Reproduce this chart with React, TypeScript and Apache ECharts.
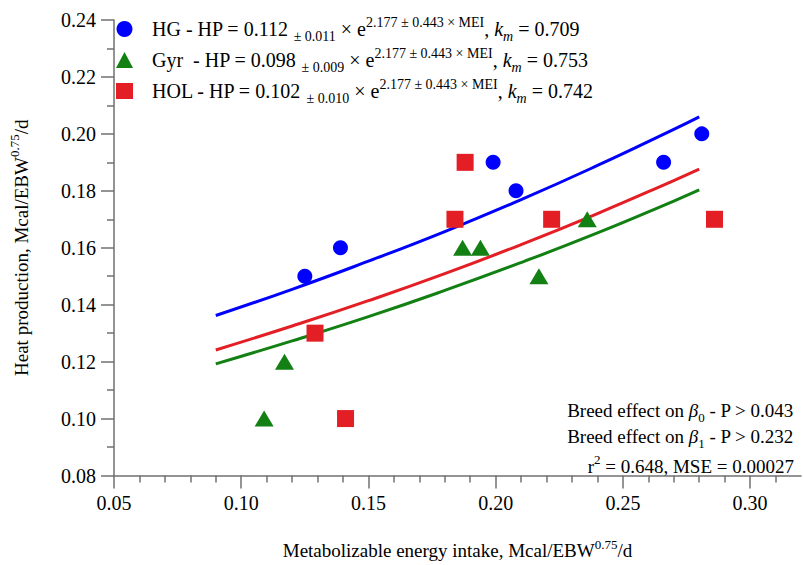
import React, { useEffect, useRef } from "react";
import * as echarts from "echarts";

const hgX = [0.125, 0.139, 0.199, 0.208, 0.266, 0.281];
const hgY = [0.15, 0.16, 0.19, 0.18, 0.19, 0.2];
const gyrX = [0.109, 0.117, 0.187, 0.194, 0.217, 0.236];
const gyrY = [0.1, 0.12, 0.16, 0.16, 0.15, 0.17];
const holX = [0.129, 0.141, 0.184, 0.188, 0.222, 0.286];
const holY = [0.13, 0.1, 0.17, 0.19, 0.17, 0.17];

// Fitted curves
const fitX = [0.09, 0.12, 0.15, 0.18, 0.21, 0.24, 0.27, 0.28];
const hgFit = [0.1362, 0.1454, 0.1553, 0.1657, 0.1769, 0.1889, 0.2016, 0.206];
const gyrFit = [0.1192, 0.1273, 0.1358, 0.145, 0.1548, 0.1652, 0.1764, 0.1803];
const holFit = [0.1241, 0.1325, 0.1414, 0.1509, 0.1611, 0.172, 0.1836, 0.1876];

// Legend texts
const breeds = ["HG", "Gyr", "HOL"];
const breedLabels = ["HG", "Gyr\u00a0", "HOL"];
const intercepts = ["0.112", "0.098", "0.102"];
const interceptSE = ["0.011", "0.009", "0.010"];
const slope = "2.177";
const slopeSE = "0.443";
const kmValues = ["0.709", "0.753", "0.742"];

// Annotation texts
const breedP = ["0.043", "0.232"];
const r2 = "0.648";
const mse = "0.00027";

// Tick labels
const xTicks = [0.05, 0.1, 0.15, 0.2, 0.25, 0.3];

const colors = ["#0000ff", "#138013", "#e31e24"];
const FONT = "Liberation Serif";
const axisColor = "#707070";

export default function App() {
  const ref = useRef<HTMLDivElement>(null);
  useEffect(() => {
    if (!ref.current) return;
    const chart = echarts.init(ref.current, undefined, { renderer: "svg" });
    const baseRich = {
      t: { fontSize: 20, fontFamily: FONT, color: "#000", lineHeight: 28 },
      g: { width: 14, fontSize: 20, lineHeight: 28 },
      sub: { fontSize: 14, fontFamily: FONT, color: "#000", verticalAlign: "bottom", lineHeight: 14 },
      sup: { fontSize: 14, fontFamily: FONT, color: "#000", verticalAlign: "top", lineHeight: 16 },
      it: { fontSize: 20, fontFamily: FONT, fontStyle: "italic", color: "#000", lineHeight: 28 },
      isub: { fontSize: 14, fontFamily: FONT, fontStyle: "italic", color: "#000", verticalAlign: "bottom", lineHeight: 14 },
    };
    const annRich = {
      t: { fontSize: 19, fontFamily: FONT, color: "#000", lineHeight: 26 },
      b: { fontSize: 19, fontFamily: FONT, fontStyle: "italic", color: "#000", lineHeight: 26 },
      s: { fontSize: 13, fontFamily: FONT, color: "#000", verticalAlign: "bottom", lineHeight: 14 },
      p: { fontSize: 13, fontFamily: FONT, color: "#000", verticalAlign: "top", lineHeight: 16 },
    };
    const tickRich = { n: { fontSize: 20, fontFamily: FONT, color: "#000" } };
    const lineStyle = { color: axisColor, width: 1.5 };
    const makeLine = (name: string, ys: number[], color: string) => ({
      name,
      type: "line",
      data: fitX.map((x, i) => [x, ys[i]]),
      smooth: true,
      showSymbol: false,
      silent: true,
      lineStyle: { color, width: 3 },
      z: 1,
    });
    const makeScatter = (name: string, xs: number[], ys: number[], symbol: string, size: any, color: string) => ({
      name,
      type: "scatter",
      data: xs.map((x, i) => [x, ys[i]]),
      symbol,
      symbolSize: size,
      itemStyle: { color, opacity: 1 },
      z: 3,
    });
    chart.setOption({
      animation: false,
      textStyle: { fontFamily: FONT },
      grid: { left: 105, right: 3, top: 20, bottom: 80 },
      legend: {
        orient: "vertical",
        left: 111,
        top: 10,
        itemWidth: 17,
        itemHeight: 16,
        itemGap: 3,
        selectedMode: false,
        data: [
          { name: "HG", icon: "circle" },
          { name: "Gyr", icon: "triangle" },
          { name: "HOL", icon: "rect" },
        ],
        textStyle: { fontFamily: FONT, rich: baseRich },
        formatter: (name: string) => {
          const i = breeds.indexOf(name);
          return (
            `{g| }{t|${breedLabels[i]} - HP = ${intercepts[i]} }{sub|± ${interceptSE[i]}}{t| × e}` +
            `{sup|${slope} ± ${slopeSE} × MEI}{t|, }{it|k}{isub|m}{t| = ${kmValues[i]}}`
          );
        },
      },
      xAxis: {
        type: "value",
        min: 0.05,
        max: 0.32,
        interval: 0.05,
        splitLine: { show: false },
        axisLine: { lineStyle },
        axisTick: { length: 13, lineStyle, customValues: xTicks },
        minorTick: { show: true, splitNumber: 5, length: 7, lineStyle },
        axisLabel: {
          customValues: xTicks,
          formatter: (v: number) => `{n|${v.toFixed(2)}}`,
          fontFamily: FONT,
          fontSize: 20,
          rich: tickRich,
          margin: 17,
        },
        name: "{t|Metabolizable energy intake, Mcal/EBW}{p|0.75}{t|/d}",
        nameLocation: "middle",
        nameGap: 62,
        nameTextStyle: { fontFamily: FONT, rich: annRich },
      },
      yAxis: {
        type: "value",
        min: 0.08,
        max: 0.24,
        interval: 0.02,
        splitLine: { show: false },
        axisLine: { lineStyle },
        axisTick: { length: 13, lineStyle },
        minorTick: { show: true, splitNumber: 2, length: 7, lineStyle },
        axisLabel: {
          formatter: (v: number) => `{n|${v.toFixed(2)}}`,
          fontFamily: FONT,
          fontSize: 20,
          rich: tickRich,
          margin: 18,
        },
        name: "{t|Heat production, Mcal/EBW}{p|0.75}{t|/d}",
        nameLocation: "middle",
        nameGap: 80,
        nameTextStyle: { fontFamily: FONT, rich: annRich },
      },
      graphic: [
        {
          type: "text",
          right: 10,
          top: 401,
          style: { text: `{t|Breed effect on }{b|β}{s|0}{t| - P > ${breedP[0]}}`, rich: annRich },
        },
        {
          type: "text",
          right: 10,
          top: 427,
          style: { text: `{t|Breed effect on }{b|β}{s|1}{t| - P > ${breedP[1]}}`, rich: annRich },
        },
        {
          type: "text",
          right: 10,
          top: 453,
          style: { text: `{t|r}{p|2}{t| = ${r2}, MSE = ${mse}}`, rich: annRich },
        },
      ],
      series: [
        makeLine("HG fit", hgFit, colors[0]),
        makeLine("Gyr fit", gyrFit, colors[1]),
        makeLine("HOL fit", holFit, colors[2]),
        makeScatter("HG", hgX, hgY, "circle", 15, colors[0]),
        makeScatter("Gyr", gyrX, gyrY, "triangle", [19, 16], colors[1]),
        makeScatter("HOL", holX, holY, "rect", 17, colors[2]),
      ],
    });
    return () => chart.dispose();
  }, []);
  return (
    <div
      ref={ref}
      style={{ position: "absolute", left: 0, top: 0, width: 804, height: 565, background: "#fff" }}
    />
  );
}
